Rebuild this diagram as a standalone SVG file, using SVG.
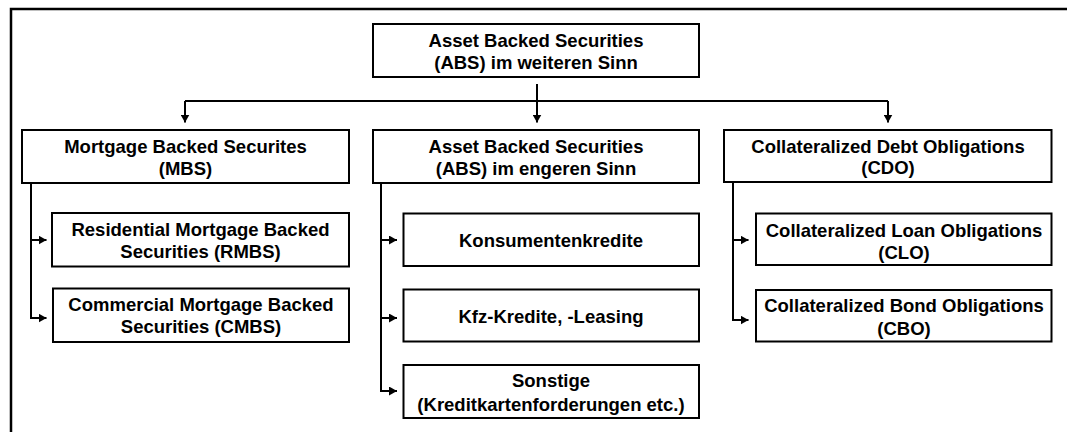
<svg xmlns="http://www.w3.org/2000/svg" width="1067" height="432" viewBox="0 0 1067 432">
  <style>
    .box { fill: #fff; stroke: #000; stroke-width: 2; }
    .lbl { font-family: "Liberation Sans", Arial, sans-serif; font-weight: bold; font-size: 18.5px; fill: #000; text-anchor: middle; }
    .con { fill: none; stroke: #000; stroke-width: 2; }
    .arr { marker-end: url(#head); }
  </style>
  <defs>
    <marker id="head" markerUnits="userSpaceOnUse" markerWidth="9" markerHeight="9" refX="8" refY="4.5" orient="auto">
      <path d="M0,0 L8,4.5 L0,9 z" fill="#000"/>
    </marker>
  </defs>
  <rect width="1067" height="432" fill="#fff"/>

  <!-- frame (top and left edges) -->
  <path d="M11,432 V9 H1067" fill="none" stroke="#000" stroke-width="2.5"/>

  <!-- connectors -->
  <g id="connectors">
    <path class="con arr" d="M537,84 V122.5"/>
    <path class="con" d="M185,101 H888"/>
    <path class="con arr" d="M185,101 V122.5"/>
    <path class="con arr" d="M888,101 V122.5"/>

    <path class="con arr" d="M31,183 V318 H46.5"/>
    <path class="con arr" d="M31,240 H46.5"/>

    <path class="con arr" d="M381,183 V391 H397"/>
    <path class="con arr" d="M381,240 H397"/>
    <path class="con arr" d="M381,318 H397"/>

    <path class="con arr" d="M733,182 V320 H748.5"/>
    <path class="con arr" d="M733,240 H748.5"/>
  </g>

  <!-- root -->
  <g id="abs-weit">
    <rect class="box" x="373" y="24" width="326" height="53"/>
    <text class="lbl" x="536" y="47">Asset Backed Securities</text>
    <text class="lbl" x="536" y="68.5">(ABS) im weiteren Sinn</text>
  </g>

  <!-- second level -->
  <g id="mbs">
    <rect class="box" x="22" y="130" width="327" height="53"/>
    <text class="lbl" x="185.5" y="153">Mortgage Backed Securites</text>
    <text class="lbl" x="185.5" y="174.5">(MBS)</text>
  </g>
  <g id="abs-eng">
    <rect class="box" x="373" y="130" width="326" height="53"/>
    <text class="lbl" x="536" y="153">Asset Backed Securities</text>
    <text class="lbl" x="536" y="174.5">(ABS) im engeren Sinn</text>
  </g>
  <g id="cdo">
    <rect class="box" x="724" y="130" width="327.5" height="52"/>
    <text class="lbl" x="888" y="152.5">Collateralized Debt Obligations</text>
    <text class="lbl" x="888" y="174">(CDO)</text>
  </g>

  <!-- MBS children -->
  <g id="rmbs">
    <rect class="box" x="52" y="213" width="297" height="53.5"/>
    <text class="lbl" x="200.5" y="235.5">Residential Mortgage Backed</text>
    <text class="lbl" x="200.5" y="258">Securities (RMBS)</text>
  </g>
  <g id="cmbs">
    <rect class="box" x="53" y="288.5" width="296" height="53.5"/>
    <text class="lbl" x="201" y="310.5">Commercial Mortgage Backed</text>
    <text class="lbl" x="201" y="333">Securities (CMBS)</text>
  </g>

  <!-- ABS children -->
  <g id="konsum">
    <rect class="box" x="403.5" y="213.5" width="295.5" height="52.5"/>
    <text class="lbl" x="551" y="246.5">Konsumentenkredite</text>
  </g>
  <g id="kfz">
    <rect class="box" x="403.5" y="289.5" width="295.5" height="52"/>
    <text class="lbl" x="551" y="323">Kfz-Kredite, -Leasing</text>
  </g>
  <g id="sonstige">
    <rect class="box" x="403.5" y="365" width="295.5" height="53"/>
    <text class="lbl" x="551" y="387">Sonstige</text>
    <text class="lbl" x="551" y="410.5">(Kreditkartenforderungen etc.)</text>
  </g>

  <!-- CDO children -->
  <g id="clo">
    <rect class="box" x="756" y="213.5" width="295.5" height="51.5"/>
    <text class="lbl" x="904" y="236.5">Collateralized Loan Obligations</text>
    <text class="lbl" x="904" y="258.5">(CLO)</text>
  </g>
  <g id="cbo">
    <rect class="box" x="756" y="290" width="295.5" height="51.5"/>
    <text class="lbl" x="904" y="312">Collateralized Bond Obligations</text>
    <text class="lbl" x="904" y="335">(CBO)</text>
  </g>
</svg>
